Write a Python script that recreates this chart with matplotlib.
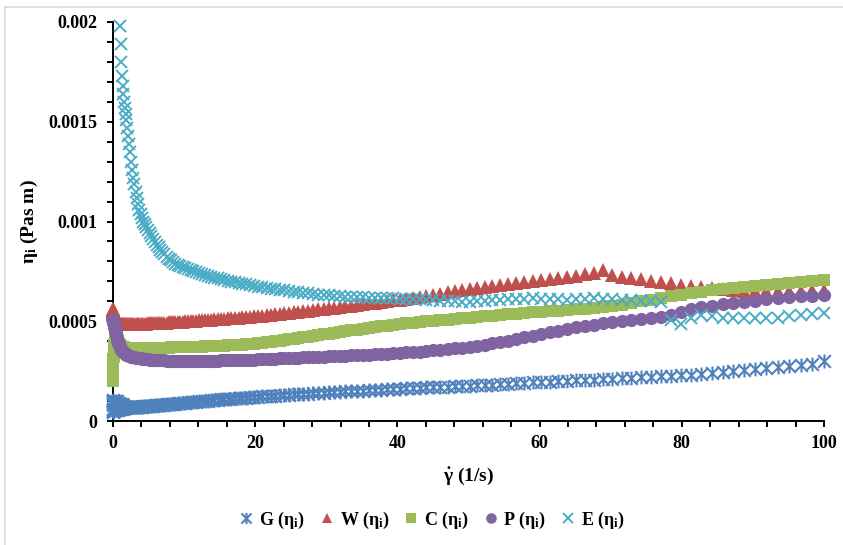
import numpy as np
import matplotlib
matplotlib.use("Agg")
import matplotlib.pyplot as plt
from matplotlib.path import Path
from matplotlib.patches import Rectangle

plt.rcParams['font.family'] = ['Liberation Serif', 'DejaVu Serif']
plt.rcParams['font.weight'] = 'bold'
plt.rcParams['mathtext.fontset'] = 'custom'
plt.rcParams['mathtext.rm'] = 'Liberation Serif:bold'
plt.rcParams['mathtext.bf'] = 'Liberation Serif:bold'
plt.rcParams['mathtext.it'] = 'Liberation Serif:bold'

# shear rate (1/s), shared by all samples
shear = [0, 0.00002, 0.00014, 0.0005, 0.0011, 0.0021, 0.0037, 0.0059, 0.0088, 0.0125,
         0.0171, 0.0228, 0.0296, 0.0377, 0.047, 0.0579, 0.0702, 0.0842, 0.1, 0.1176,
         0.1372, 0.1588, 0.1826, 0.2086, 0.237, 0.268, 0.301, 0.3375, 0.376, 0.418,
         0.463, 0.511, 0.562, 0.616, 0.674, 0.735, 0.8, 0.869, 0.941, 1.017,
         1.097, 1.182, 1.270, 1.363, 1.461, 1.5625, 1.669, 1.780, 1.896, 2.017,
         2.143, 2.275, 2.411, 2.553, 2.7, 2.853, 3.011, 3.175, 3.346, 3.522,
         3.704, 3.892, 4.087, 4.2875, 4.495, 4.709, 4.930, 5.157, 5.391, 5.633,
         5.881, 6.137, 6.4, 6.670, 6.948, 7.234, 7.527, 7.828, 8.137, 8.454,
         8.779, 9.1125, 9.454, 9.804, 10.163, 10.530, 10.906, 11.291, 11.685, 12.088,
         12.5, 12.921, 13.352, 13.792, 14.242, 14.701, 15.170, 15.649, 16.139, 16.638,
         17.147, 17.666, 18.196, 18.737, 19.288, 19.850, 20.422, 21.006, 21.6, 22.206,
         22.823, 23.450, 24.090, 24.741, 25.404, 26.078, 26.764, 27.463, 28.173, 28.895,
         29.630, 30.377, 31.136, 31.908, 32.692, 33.490, 34.300, 35.123, 35.960, 36.809,
         37.672, 38.548, 39.437, 40.340, 41.257, 42.188, 43.132, 44.091, 45.063, 46.050,
         47.051, 48.066, 49.096, 50.141, 51.200, 52.274, 53.363, 54.467, 55.586, 56.721,
         57.870, 59.036, 60.216, 61.412, 62.625, 63.853, 65.096, 66.356, 67.632, 68.924,
         70.233, 71.558, 72.900, 74.258, 75.634, 77.026, 78.434, 79.860, 81.303, 82.764,
         84.242, 85.737, 87.250, 88.781, 90.330, 91.896, 93.480, 95.083, 96.704, 98.343,
         100.0]

# viscosity values, in units of 1e-4 Pas m
eta_G = [0.8, 0.5, 1.0, 0.6, 0.9, 0.45, 1.05, 0.6, 0.9, 0.5,
         0.95, 0.55, 1.0, 0.6, 0.85, 0.5, 1.0, 0.6, 0.9, 0.55,
         0.95, 0.6, 0.9, 0.5, 1.0, 0.6, 0.85, 0.55, 0.95, 0.6,
         0.9, 0.55, 1.0, 0.6, 0.85, 0.55, 0.9, 0.6, 0.85, 0.6,
         0.8, 0.6, 0.85, 0.62, 0.78, 0.64, 0.72, 0.66, 0.68, 0.68,
         0.68, 0.68, 0.69, 0.69, 0.69, 0.70, 0.70, 0.70, 0.70, 0.71,
         0.71, 0.72, 0.72, 0.73, 0.74, 0.74, 0.75, 0.76, 0.76, 0.77,
         0.78, 0.78, 0.79, 0.80, 0.81, 0.82, 0.83, 0.84, 0.85, 0.86,
         0.87, 0.88, 0.89, 0.91, 0.92, 0.93, 0.94, 0.96, 0.97, 0.98,
         1.00, 1.01, 1.02, 1.04, 1.05, 1.07, 1.08, 1.09, 1.11, 1.12,
         1.13, 1.15, 1.16, 1.17, 1.19, 1.20, 1.21, 1.23, 1.24, 1.25,
         1.27, 1.28, 1.30, 1.31, 1.33, 1.34, 1.36, 1.37, 1.39, 1.40,
         1.42, 1.43, 1.45, 1.46, 1.48, 1.49, 1.51, 1.52, 1.54, 1.55,
         1.57, 1.58, 1.60, 1.62, 1.63, 1.65, 1.66, 1.68, 1.69, 1.71,
         1.72, 1.74, 1.75, 1.77, 1.78, 1.80, 1.82, 1.84, 1.86, 1.88,
         1.90, 1.93, 1.95, 1.97, 1.99, 2.01, 2.04, 2.06, 2.08, 2.11,
         2.13, 2.16, 2.18, 2.20, 2.22, 2.24, 2.27, 2.30, 2.33, 2.37,
         2.42, 2.46, 2.51, 2.55, 2.59, 2.64, 2.69, 2.74, 2.80, 2.88,
         3.00]

eta_W = [5.60, 5.60, 5.59, 5.58, 5.57, 5.56, 5.55, 5.54, 5.53, 5.52,
         5.50, 5.48, 5.46, 5.44, 5.42, 5.40, 5.37, 5.34, 5.31, 5.28,
         5.25, 5.21, 5.18, 5.14, 5.11, 5.08, 5.05, 5.02, 4.99, 4.97,
         4.95, 4.93, 4.92, 4.91, 4.90, 4.89, 4.88, 4.88, 4.87, 4.87,
         4.87, 4.86, 4.86, 4.86, 4.86, 4.86, 4.86, 4.86, 4.86, 4.86,
         4.86, 4.86, 4.86, 4.86, 4.86, 4.86, 4.86, 4.86, 4.86, 4.87,
         4.87, 4.87, 4.87, 4.88, 4.88, 4.88, 4.89, 4.89, 4.89, 4.90,
         4.90, 4.91, 4.91, 4.92, 4.92, 4.93, 4.93, 4.94, 4.95, 4.95,
         4.96, 4.97, 4.97, 4.98, 4.99, 5.00, 5.01, 5.02, 5.03, 5.04,
         5.05, 5.06, 5.07, 5.08, 5.09, 5.11, 5.12, 5.13, 5.14, 5.16,
         5.17, 5.18, 5.20, 5.21, 5.22, 5.24, 5.26, 5.28, 5.30, 5.32,
         5.34, 5.36, 5.39, 5.41, 5.44, 5.47, 5.50, 5.53, 5.56, 5.59,
         5.62, 5.65, 5.68, 5.71, 5.74, 5.78, 5.81, 5.85, 5.89, 5.93,
         5.97, 6.01, 6.05, 6.09, 6.13, 6.18, 6.23, 6.28, 6.33, 6.38,
         6.46, 6.52, 6.57, 6.62, 6.66, 6.71, 6.76, 6.81, 6.85, 6.90,
         6.95, 7.00, 7.05, 7.10, 7.16, 7.22, 7.29, 7.36, 7.43, 7.55,
         7.33, 7.24, 7.18, 7.10, 7.03, 6.97, 6.90, 6.83, 6.78, 6.74,
         6.66, 6.60, 6.56, 6.53, 6.52, 6.52, 6.52, 6.53, 6.54, 6.55,
         6.55]

eta_C = [2.0, 2.05, 2.1, 2.15, 2.2, 2.25, 2.3, 2.35, 2.4, 2.45,
         2.5, 2.6, 2.7, 2.8, 2.9, 3.0, 3.1, 3.2, 3.3, 3.4,
         3.5, 3.6, 3.7, 3.8, 3.9, 4.0, 4.1, 4.15, 4.2, 4.2,
         4.15, 4.1, 4.05, 4.0, 3.95, 3.9, 3.85, 3.82, 3.8, 3.78,
         3.76, 3.74, 3.72, 3.71, 3.70, 3.69, 3.68, 3.68, 3.67, 3.67,
         3.66, 3.66, 3.66, 3.66, 3.66, 3.66, 3.66, 3.66, 3.66, 3.66,
         3.66, 3.66, 3.66, 3.66, 3.66, 3.66, 3.66, 3.67, 3.67, 3.67,
         3.67, 3.67, 3.67, 3.68, 3.68, 3.68, 3.68, 3.68, 3.69, 3.69,
         3.69, 3.69, 3.70, 3.70, 3.70, 3.71, 3.71, 3.72, 3.72, 3.73,
         3.73, 3.74, 3.74, 3.75, 3.76, 3.76, 3.77, 3.78, 3.79, 3.80,
         3.81, 3.82, 3.83, 3.84, 3.86, 3.88, 3.90, 3.92, 3.94, 3.97,
         4.00, 4.03, 4.06, 4.09, 4.12, 4.16, 4.19, 4.23, 4.26, 4.30,
         4.34, 4.38, 4.42, 4.46, 4.50, 4.54, 4.58, 4.62, 4.66, 4.70,
         4.74, 4.78, 4.82, 4.86, 4.89, 4.93, 4.96, 4.99, 5.02, 5.05,
         5.08, 5.11, 5.14, 5.18, 5.21, 5.25, 5.28, 5.31, 5.34, 5.38,
         5.41, 5.44, 5.47, 5.50, 5.53, 5.56, 5.59, 5.62, 5.65, 5.69,
         5.74, 5.81, 5.90, 5.99, 6.07, 6.16, 6.26, 6.34, 6.41, 6.48,
         6.56, 6.62, 6.68, 6.73, 6.78, 6.83, 6.88, 6.92, 6.96, 7.01,
         7.07]

eta_P = [5.05, 5.05, 5.05, 5.04, 5.04, 5.04, 5.03, 5.03, 5.03, 5.02,
         5.02, 5.01, 5.00, 4.99, 4.98, 4.96, 4.94, 4.92, 4.90, 4.87,
         4.84, 4.80, 4.76, 4.72, 4.67, 4.62, 4.57, 4.51, 4.45, 4.38,
         4.31, 4.23, 4.15, 4.06, 3.98, 3.92, 3.86, 3.80, 3.74, 3.68,
         3.63, 3.58, 3.53, 3.49, 3.45, 3.42, 3.39, 3.36, 3.33, 3.31,
         3.29, 3.27, 3.25, 3.23, 3.22, 3.20, 3.19, 3.18, 3.17, 3.16,
         3.15, 3.14, 3.13, 3.12, 3.11, 3.10, 3.09, 3.08, 3.07, 3.07,
         3.06, 3.06, 3.05, 3.05, 3.04, 3.04, 3.03, 3.03, 3.03, 3.03,
         3.02, 3.02, 3.02, 3.02, 3.02, 3.02, 3.02, 3.02, 3.02, 3.02,
         3.02, 3.02, 3.03, 3.03, 3.03, 3.03, 3.04, 3.04, 3.04, 3.05,
         3.05, 3.06, 3.06, 3.07, 3.07, 3.08, 3.09, 3.10, 3.11, 3.12,
         3.13, 3.14, 3.15, 3.16, 3.17, 3.18, 3.19, 3.20, 3.21, 3.22,
         3.23, 3.24, 3.25, 3.26, 3.27, 3.29, 3.30, 3.31, 3.33, 3.34,
         3.36, 3.38, 3.40, 3.42, 3.44, 3.46, 3.48, 3.51, 3.54, 3.57,
         3.60, 3.64, 3.68, 3.72, 3.77, 3.83, 3.89, 3.96, 4.03, 4.11,
         4.19, 4.28, 4.37, 4.45, 4.53, 4.61, 4.69, 4.76, 4.83, 4.90,
         4.97, 5.03, 5.08, 5.12, 5.16, 5.21, 5.33, 5.48, 5.60, 5.70,
         5.78, 5.85, 5.91, 5.96, 6.03, 6.10, 6.17, 6.23, 6.26, 6.28,
         6.32]

# E is above the axis top (off scale) below 1 1/s
nan = float("nan")
eta_E = [nan] * 39 + [
         19.8,
         18.9, 18.0, 17.3, 16.8, 16.4, 16.0, 15.7, 15.4, 15.1, 14.7,
         14.3, 13.9, 13.5, 13.0, 12.6, 12.2, 11.9, 11.5, 11.2, 10.9,
         10.6, 10.4, 10.2, 10.0, 9.85, 9.7, 9.55, 9.4, 9.25, 9.1,
         8.95, 8.82, 8.7, 8.58, 8.46, 8.35, 8.24, 8.14, 8.05, 7.96,
         7.88, 7.82, 7.76, 7.7, 7.65, 7.6, 7.55, 7.5, 7.45, 7.4,
         7.35, 7.31, 7.27, 7.23, 7.19, 7.15, 7.11, 7.07, 7.03, 6.99,
         6.95, 6.92, 6.88, 6.85, 6.81, 6.78, 6.74, 6.71, 6.67, 6.64,
         6.61, 6.58, 6.55, 6.52, 6.49, 6.46, 6.43, 6.40, 6.37, 6.34,
         6.32, 6.30, 6.28, 6.26, 6.24, 6.22, 6.21, 6.20, 6.19, 6.18,
         6.17, 6.16, 6.15, 6.14, 6.13, 6.12, 6.10, 6.08, 6.06, 6.04,
         6.02, 6.00, 5.98, 5.98, 6.00, 6.03, 6.06, 6.08, 6.10, 6.12,
         6.14, 6.16, 6.14, 6.12, 6.10, 6.08, 6.11, 6.14, 6.16, 6.14,
         6.12, 6.08, 6.05, 6.02, 6.00, 5.98, 5.05, 4.88, 5.15, 5.30,
         5.24, 5.18, 5.16, 5.15, 5.16, 5.16, 5.18, 5.24, 5.30, 5.36,
         5.40]

labels = [r"G ($\mathbf{\eta_i}$)", r"W ($\mathbf{\eta_i}$)", r"C ($\mathbf{\eta_i}$)",
          r"P ($\mathbf{\eta_i}$)", r"E ($\mathbf{\eta_i}$)"]
colors = ["#4F81BD", "#C0504D", "#9BBB59", "#8064A2", "#4BACC6"]

yticks = [0, 0.0005, 0.001, 0.0015, 0.002]
ytick_labels = ["0", "0.0005", "0.001", "0.0015", "0.002"]
xticks = [0, 20, 40, 60, 80, 100]

# excel style "star" marker: an x with a vertical bar
star = Path([(-1, -1), (1, 1), (-1, 1), (1, -1), (0, -1.1), (0, 1.1)],
            [Path.MOVETO, Path.LINETO, Path.MOVETO, Path.LINETO, Path.MOVETO, Path.LINETO])

fig = plt.figure(figsize=(8.43, 5.45), dpi=100)
ax = fig.add_axes([113 / 843, 1 - 421 / 545, (824 - 113) / 843, (421 - 22) / 545])

x = np.array(shear)
series = [eta_G, eta_W, eta_C, eta_P, eta_E]
styles = [dict(marker=star, mfc="none", mew=1.5, ms=10),
          dict(marker="^", mew=0, ms=9.5),
          dict(marker="s", mew=0, ms=9),
          dict(marker="o", mew=0, ms=9.5),
          dict(marker="x", mew=1.4, ms=8.5)]
for vals, lab, col, st in zip(series, labels, colors, styles):
    ax.plot(x, np.array(vals) * 1e-4, linestyle="none", color=col, label=lab,
            clip_on=False, zorder=3, **st)

ax.set_xlim(0, 100)
ax.set_ylim(0, 0.002)
ax.set_xticks(xticks)
ax.set_xticks(np.arange(0, 101, 4), minor=True)
ax.set_yticks(yticks)
ax.set_yticklabels(ytick_labels)
ax.set_yticks(np.arange(0, 0.00201, 0.0001), minor=True)
for side in ["top", "right"]:
    ax.spines[side].set_visible(False)
for side in ["left", "bottom"]:
    ax.spines[side].set_linewidth(1.4)
ax.tick_params(which="both", direction="out", length=4, width=1.4, labelsize=13)
ax.tick_params(axis="y", pad=7)
ax.tick_params(axis="x", pad=6)
for t in ax.get_xticklabels() + ax.get_yticklabels():
    t.set_fontweight("bold")

ax.set_xlabel(r"$\mathbf{\dot{\gamma}}$ (1/s)", fontsize=14, fontweight="bold", labelpad=10)
ax.set_ylabel(r"$\mathbf{\eta_i}$ (Pas m)", fontsize=14, fontweight="bold", labelpad=6)

leg = fig.legend(loc="center", bbox_to_anchor=(432 / 843, 1 - 520 / 545), ncol=5,
                 frameon=False, handlelength=0.8, handletextpad=0.3, columnspacing=0.8,
                 numpoints=1, prop=dict(size=13, weight="bold"), markerscale=0.8)

fig.patches.append(Rectangle((5 / 843, -0.05), 1.1, 1 - 7 / 545 + 0.05, fill=False,
                             edgecolor="#D9D9D9", linewidth=1.2, transform=fig.transFigure))

fig.savefig("out.png", dpi=100)
